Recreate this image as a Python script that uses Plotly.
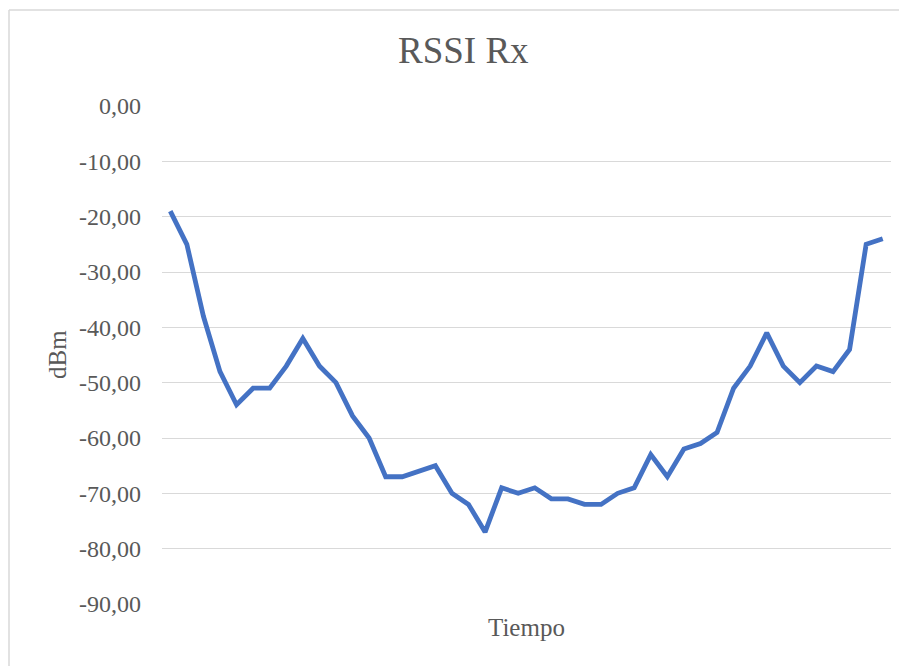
import plotly.graph_objects as go

rssi = [-19, -25, -38, -48, -54, -51, -51, -47, -42, -47, -50, -56, -60, -67, -67,
        -66, -65, -70, -72, -77, -69, -70, -69, -71, -71, -72, -72, -70, -69, -63,
        -67, -62, -61, -59, -51, -47, -41, -47, -50, -47, -48, -44, -25, -24]
samples = list(range(len(rssi)))
tick_vals = [0, -10, -20, -30, -40, -50, -60, -70, -80, -90]
tick_text = ["0,00", "-10,00", "-20,00", "-30,00", "-40,00", "-50,00",
             "-60,00", "-70,00", "-80,00", "-90,00"]

# page has an 8px body margin, so work in page coordinates and shift
OFF = 8
W, H = 907 - OFF, 666 - OFF
L, R, T, B = 162 - OFF, 891 - OFF, 106 - OFF, 604 - OFF

def px(x):
    return (x - OFF - L) / (R - L)

def py(y):
    return (B - (y - OFF)) / (B - T)

fig = go.Figure()
fig.add_trace(go.Scatter(x=samples, y=rssi, mode="lines",
                         line=dict(color="#4472C4", width=4.8),
                         hoverinfo="y"))

font_family = "Liberation Serif, Times New Roman, serif"
grey = "#595959"

fig.update_layout(
    width=W, height=H,
    margin=dict(l=L, r=W - R, t=T, b=H - B),
    paper_bgcolor="white", plot_bgcolor="white",
    showlegend=False,
    font=dict(family=font_family, color=grey),
    xaxis=dict(range=[-0.5, len(rssi) - 0.5], showgrid=False, zeroline=False,
               showticklabels=False, showline=False, fixedrange=True),
    yaxis=dict(range=[-90, 0], tickvals=tick_vals, ticktext=tick_text,
               showgrid=True, gridcolor="#D9D9D9", gridwidth=1.3,
               zeroline=False, showline=False,
               tickfont=dict(size=24, color=grey, family=font_family),
               ticklabelstandoff=20),
    annotations=[
        dict(text="RSSI Rx", x=px(463), y=py(51), xref="paper", yref="paper",
             showarrow=False, xanchor="center", yanchor="middle",
             font=dict(size=37, color=grey, family=font_family)),
        dict(text="Tiempo", x=px(526), y=py(627), xref="paper", yref="paper",
             showarrow=False, xanchor="center", yanchor="middle",
             font=dict(size=25, color=grey, family=font_family)),
        dict(text="dBm", x=px(57), y=py(354), xref="paper", yref="paper",
             showarrow=False, xanchor="center", yanchor="middle", textangle=-90,
             font=dict(size=25, color=grey, family=font_family)),
    ],
    shapes=[
        dict(type="line", xref="paper", yref="paper",
             x0=px(9), x1=px(9), y0=py(10), y1=py(680),
             line=dict(color="#D9D9D9", width=1.5)),
        dict(type="line", xref="paper", yref="paper",
             x0=px(9), x1=px(920), y0=py(10), y1=py(10),
             line=dict(color="#D9D9D9", width=1.5)),
    ],
)

fig.write_html("out.html")
